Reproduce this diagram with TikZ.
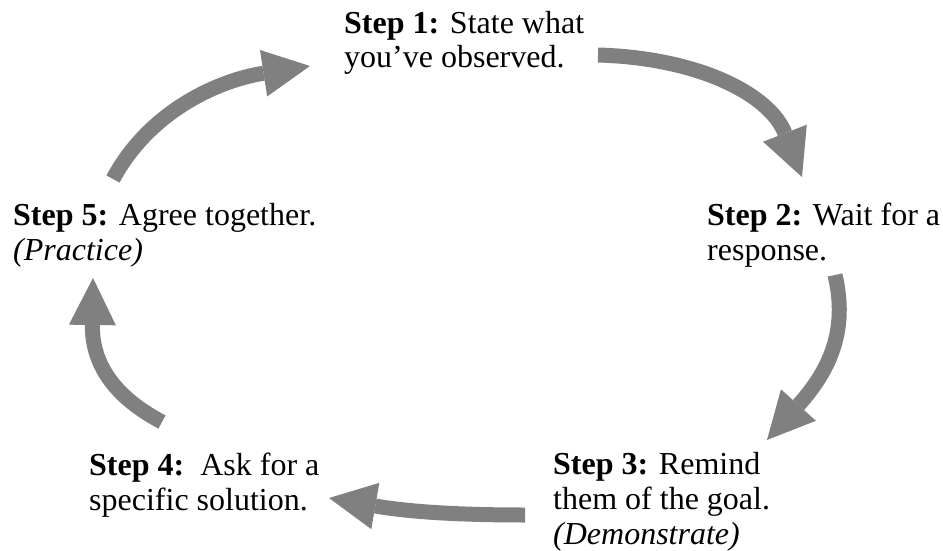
\documentclass[tikz,border=0pt]{standalone}
\usepackage{fontspec}
\setmainfont{Liberation Serif}
\usetikzlibrary{arrows.meta}
\definecolor{arrowgray}{HTML}{808080}
\tikzset{
  steptext/.style={anchor=base west, inner sep=0pt, align=left,
    font=\fontsize{32}{35}\selectfont},
  cyclearrow/.style={draw=arrowgray, line width=15pt, line cap=butt,
    -{Triangle[length=47pt,width=47pt,line width=0pt 0 0]}, arrowgray}
}
\begin{document}
\begin{tikzpicture}[x=1pt,y=-1pt]
\useasboundingbox (0,0) rectangle (943,551);
% text nodes (positioned at the baseline of their last line)
\node[steptext] (s1) at (344,68) {\textbf{Step 1:} State what\\you’ve observed.};
\node[steptext] (s2) at (707,260) {\textbf{Step 2:} Wait for a\\response.};
\node[steptext] (s3) at (553,544) {\textbf{Step 3:} Remind\\them of the goal.\\\textit{(Demonstrate)}};
\node[steptext] (s4) at (89,510) {\textbf{Step 4:}\ \ Ask for a\\specific solution.};
\node[steptext] (s5) at (13,260) {\textbf{Step 5:} Agree together.\\\textit{(Practice)}};
% arrow end points
\coordinate (a1s) at (598,55);  \coordinate (a1e) at (802,177);
\coordinate (a2s) at (835,275); \coordinate (a2e) at (767,440);
\coordinate (a3s) at (525,515); \coordinate (a3e) at (329,498);
\coordinate (a4s) at (162,422); \coordinate (a4e) at (93,278);
\coordinate (a5s) at (113,179); \coordinate (a5e) at (310,66);
% arrows
\draw[cyclearrow] (a1s) .. controls (700,58) and (770,95) .. (a1e);
\draw[cyclearrow] (a2s) .. controls (848,330) and (830,370) .. (a2e);
\draw[cyclearrow] (a3s) .. controls (460,515) and (410,512) .. (a3e);
\draw[cyclearrow] (a4s) .. controls (105,392) and (92,355) .. (a4e);
\draw[cyclearrow] (a5s) .. controls (150,110) and (220,80) .. (a5e);
\end{tikzpicture}
\end{document}
